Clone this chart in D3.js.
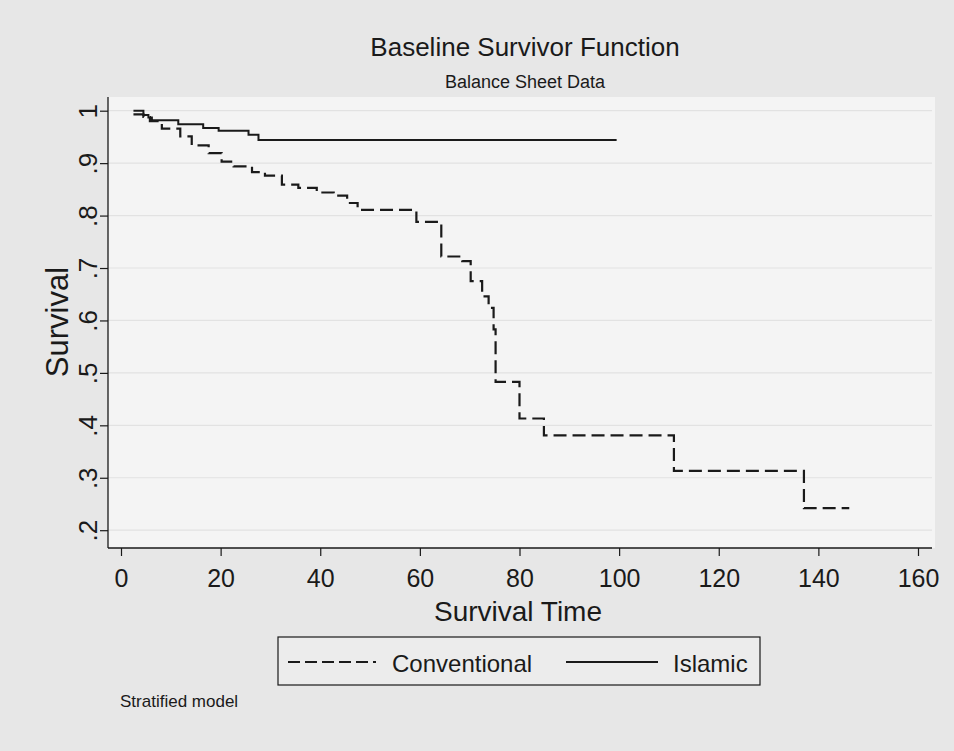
<!DOCTYPE html>
<html>
<head>
<meta charset="utf-8">
<script src="https://cdn.jsdelivr.net/npm/d3@7"></script>
<style>
  html, body { margin: 0; padding: 0; background: #e8e8e8; }
  svg { display: block; }
</style>
</head>
<body>
<svg id="chart" width="954" height="751"></svg>
<script>
// ---- data ----
const convTime = [2.5, 4.5, 5.8, 8.2, 11.9, 14.2, 17.6, 20.2, 22.6, 26.3, 28.9, 32.3, 35.6, 39.3, 42.7, 45.4, 47.5, 59.3, 64.3, 68.5, 70.2, 72.5, 73.8, 74.8, 75.2, 80.0, 84.9, 111.0, 137.1, 146.2];
const convSurv = [0.993, 0.988, 0.980, 0.966, 0.951, 0.934, 0.919, 0.903, 0.894, 0.883, 0.876, 0.859, 0.853, 0.844, 0.838, 0.824, 0.811, 0.788, 0.722, 0.713, 0.675, 0.646, 0.624, 0.583, 0.483, 0.413, 0.381, 0.313, 0.242, 0.242];
const islTime = [2.5, 4.5, 5.5, 6.2, 11.5, 16.5, 19.6, 25.6, 27.6, 99.5];
const islSurv = [1.0, 0.992, 0.987, 0.982, 0.974, 0.967, 0.962, 0.954, 0.944, 0.944];
const xTicks = [0, 20, 40, 60, 80, 100, 120, 140, 160];
const yTicks = [0.2, 0.3, 0.4, 0.5, 0.6, 0.7, 0.8, 0.9, 1.0];
const yTickLabels = [".2", ".3", ".4", ".5", ".6", ".7", ".8", ".9", "1"];
const seriesNames = ["Conventional", "Islamic"];
const titleText = "Baseline Survivor Function";
const subtitleText = "Balance Sheet Data";
const xTitle = "Survival Time";
const yTitle = "Survival";
const noteText = "Stratified model";

// ---- layout ----
const svg = d3.select("#chart");
const W = 954, H = 751;
const plot = { left: 108, right: 935, top: 97, bottom: 548 };
const ink = "#1a1a1a";
const narrow = "'Liberation Sans Narrow', 'Arial Narrow', Arial, sans-serif";
const regular = "Arial, 'Liberation Sans', Helvetica, sans-serif";

svg.append("rect").attr("width", W).attr("height", H).attr("fill", "#e7e7e7");
svg.append("rect")
  .attr("x", plot.left).attr("y", plot.top)
  .attr("width", plot.right - plot.left).attr("height", plot.bottom - plot.top)
  .attr("fill", "#f4f4f4");

const x = d3.scaleLinear().domain([0, 160]).range([121, 918]);
const y = d3.scaleLinear().domain([0.2, 1]).range([530.2, 110.7]);

// gridlines
svg.append("g").selectAll("line").data(yTicks).join("line")
  .attr("x1", plot.left).attr("x2", plot.right - 3)
  .attr("y1", d => y(d)).attr("y2", d => y(d))
  .attr("stroke", "#e2e2e2").attr("stroke-width", 1.2);

// axes
const xAxis = d3.axisBottom(x).tickValues(xTicks).tickSize(8).tickPadding(13).tickFormat(d3.format("d"));
const gx = svg.append("g").attr("transform", `translate(0,${plot.bottom})`).call(xAxis);
gx.select(".domain").remove();
gx.selectAll(".tick line").attr("stroke", ink).attr("stroke-width", 1.2);
gx.selectAll(".tick text").attr("fill", ink).attr("font-family", narrow).attr("font-size", 25).attr("dy", "0.71em");

const yAxis = d3.axisLeft(y).tickValues(yTicks).tickSize(8).tickFormat((d, i) => yTickLabels[i]);
const gy = svg.append("g").attr("transform", `translate(${plot.left},0)`).call(yAxis);
gy.select(".domain").remove();
gy.selectAll(".tick line").attr("stroke", ink).attr("stroke-width", 1.2);
gy.selectAll(".tick text")
  .attr("fill", ink).attr("font-family", narrow).attr("font-size", 26)
  .attr("text-anchor", "middle").attr("x", null).attr("dy", null)
  .attr("transform", "translate(-11,0) rotate(-90)");

// axis lines
svg.append("line").attr("x1", plot.left).attr("x2", plot.left)
  .attr("y1", plot.top).attr("y2", plot.bottom).attr("stroke", ink).attr("stroke-width", 1.3);
svg.append("line").attr("x1", plot.left).attr("x2", 932)
  .attr("y1", plot.bottom).attr("y2", plot.bottom).attr("stroke", ink).attr("stroke-width", 1.3);

// series
const line = d3.line().x(d => x(d[0])).y(d => y(d[1])).curve(d3.curveStepAfter);
const convData = convTime.map((t, i) => [t, convSurv[i]]);
const islData = islTime.map((t, i) => [t, islSurv[i]]);

svg.append("path").datum(islData).attr("d", line)
  .attr("fill", "none").attr("stroke", ink).attr("stroke-width", 2);
svg.append("path").datum(convData).attr("d", line)
  .attr("fill", "none").attr("stroke", ink).attr("stroke-width", 2.2)
  .attr("stroke-dasharray", "13,6");

// titles
svg.append("text").attr("x", 525).attr("y", 56).attr("text-anchor", "middle")
  .attr("font-family", regular).attr("font-size", 26).attr("fill", ink).text(titleText);
svg.append("text").attr("x", 525).attr("y", 88).attr("text-anchor", "middle")
  .attr("font-family", regular).attr("font-size", 18).attr("fill", ink).text(subtitleText);
svg.append("text").attr("x", 518).attr("y", 621).attr("text-anchor", "middle")
  .attr("font-family", regular).attr("font-size", 28).attr("fill", ink).text(xTitle);
svg.append("text").attr("transform", `translate(68,322) rotate(-90)`).attr("text-anchor", "middle")
  .attr("font-family", regular).attr("font-size", 31).attr("fill", ink).text(yTitle);

// legend
const lg = svg.append("g");
lg.append("rect").attr("x", 278).attr("y", 637).attr("width", 482).attr("height", 48)
  .attr("fill", "#ececec").attr("stroke", ink).attr("stroke-width", 1.2);
lg.append("line").attr("x1", 288).attr("x2", 376).attr("y1", 662).attr("y2", 662)
  .attr("stroke", ink).attr("stroke-width", 2).attr("stroke-dasharray", "12,5");
lg.append("text").attr("x", 392).attr("y", 672).attr("font-family", regular)
  .attr("font-size", 24).attr("fill", ink).text(seriesNames[0]);
lg.append("line").attr("x1", 566).attr("x2", 658).attr("y1", 662).attr("y2", 662)
  .attr("stroke", ink).attr("stroke-width", 1.8);
lg.append("text").attr("x", 673).attr("y", 672).attr("font-family", regular)
  .attr("font-size", 24).attr("fill", ink).text(seriesNames[1]);

// note
svg.append("text").attr("x", 120).attr("y", 707).attr("font-family", regular)
  .attr("font-size", 17).attr("fill", ink).text(noteText);
</script>
</body>
</html>
